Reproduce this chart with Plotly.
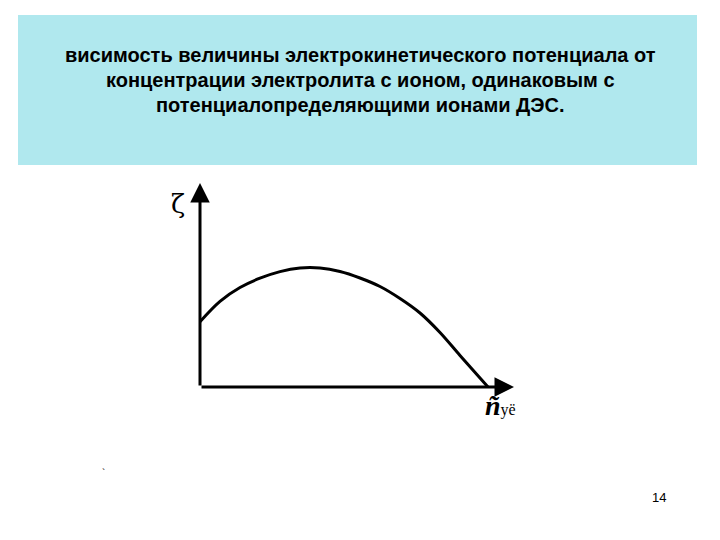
import plotly.graph_objects as go

# Curve data (arbitrary units): concentration vs zeta potential
conc = [0.0, 0.2, 0.4, 0.6, 0.8, 1.0, 1.2, 1.4, 1.6, 1.8, 2.0, 2.2, 2.4, 2.6, 2.8, 2.88]
zeta = [0.653, 0.857, 0.995, 1.088, 1.154, 1.19, 1.19, 1.155, 1.09, 1.005, 0.885, 0.74, 0.545, 0.315, 0.09, 0.0]

title_lines = [
    "висимость величины электрокинетического потенциала от",
    "концентрации электролита с ионом, одинаковым с",
    "потенциалопределяющими ионами ДЭС.",
]
y_label = "ζ"
x_label_main = "ñ"
x_label_sub = "уё"
page_num = "14"

# axis extents (data units)
x_axis_end = 3.14
y_axis_end = 2.04

W, H = 720, 540
OFF = 8  # page offset of the plot div
ox, oy = 200 - OFF, 387 - OFF  # pixel location of origin within figure
scale = 100.0
xr = [(0 - ox) / scale, (W - ox) / scale]
yr = [(oy - H) / scale, (oy - 0) / scale]


def px(x):
    return (x - OFF) / W


def py(y):
    return 1 - (y - OFF) / H


fig = go.Figure()

fig.add_trace(go.Scatter(
    x=conc, y=zeta, mode="lines",
    line=dict(color="black", width=3, shape="spline", smoothing=1.0),
    hoverinfo="skip", showlegend=False,
))

shapes = [
    dict(type="rect", xref="paper", yref="paper",
         x0=px(18), x1=px(697), y0=py(165), y1=py(15),
         fillcolor="rgb(176,232,238)", line=dict(width=0), layer="below"),
]

annotations = [
    dict(x=0, y=y_axis_end, ax=0, ay=0, xref="x", yref="y", axref="x", ayref="y",
         showarrow=True, arrowhead=2, arrowsize=1.3, arrowwidth=3, arrowcolor="black", text=""),
    dict(x=x_axis_end, y=0, ax=0, ay=0, xref="x", yref="y", axref="x", ayref="y",
         showarrow=True, arrowhead=2, arrowsize=1.3, arrowwidth=3, arrowcolor="black", text=""),
    dict(x=-0.22, y=1.83, xref="x", yref="y", text=y_label, showarrow=False,
         font=dict(family="DejaVu Serif", size=26, color="black")),
    dict(x=3.0, y=-0.18, xref="x", yref="y",
         text="<b><i>" + x_label_main + "</i></b><span style='font-size:16px'>" + x_label_sub + "</span>",
         showarrow=False, font=dict(family="Liberation Serif", size=28, color="black")),
    dict(x=px(668), y=py(507), xref="paper", yref="paper", text=page_num, showarrow=False,
         font=dict(family="Liberation Sans", size=13, color="black")),
    dict(x=px(100), y=py(481), xref="paper", yref="paper", text="`", showarrow=False,
         font=dict(family="Liberation Sans", size=10, color="black")),
]
for i, line in enumerate(title_lines):
    annotations.append(dict(
        x=px(360), y=py(55 + 25 * i), xref="paper", yref="paper",
        xanchor="center", yanchor="middle",
        text="<b>" + line + "</b>", showarrow=False,
        font=dict(family="Liberation Sans", size=20, color="black")))

fig.update_layout(
    width=W, height=H,
    margin=dict(l=0, r=0, t=0, b=0),
    paper_bgcolor="white", plot_bgcolor="white",
    xaxis=dict(range=xr, visible=False, fixedrange=True),
    yaxis=dict(range=yr, visible=False, fixedrange=True),
    shapes=shapes, annotations=annotations,
)

fig.write_html("out.html")
